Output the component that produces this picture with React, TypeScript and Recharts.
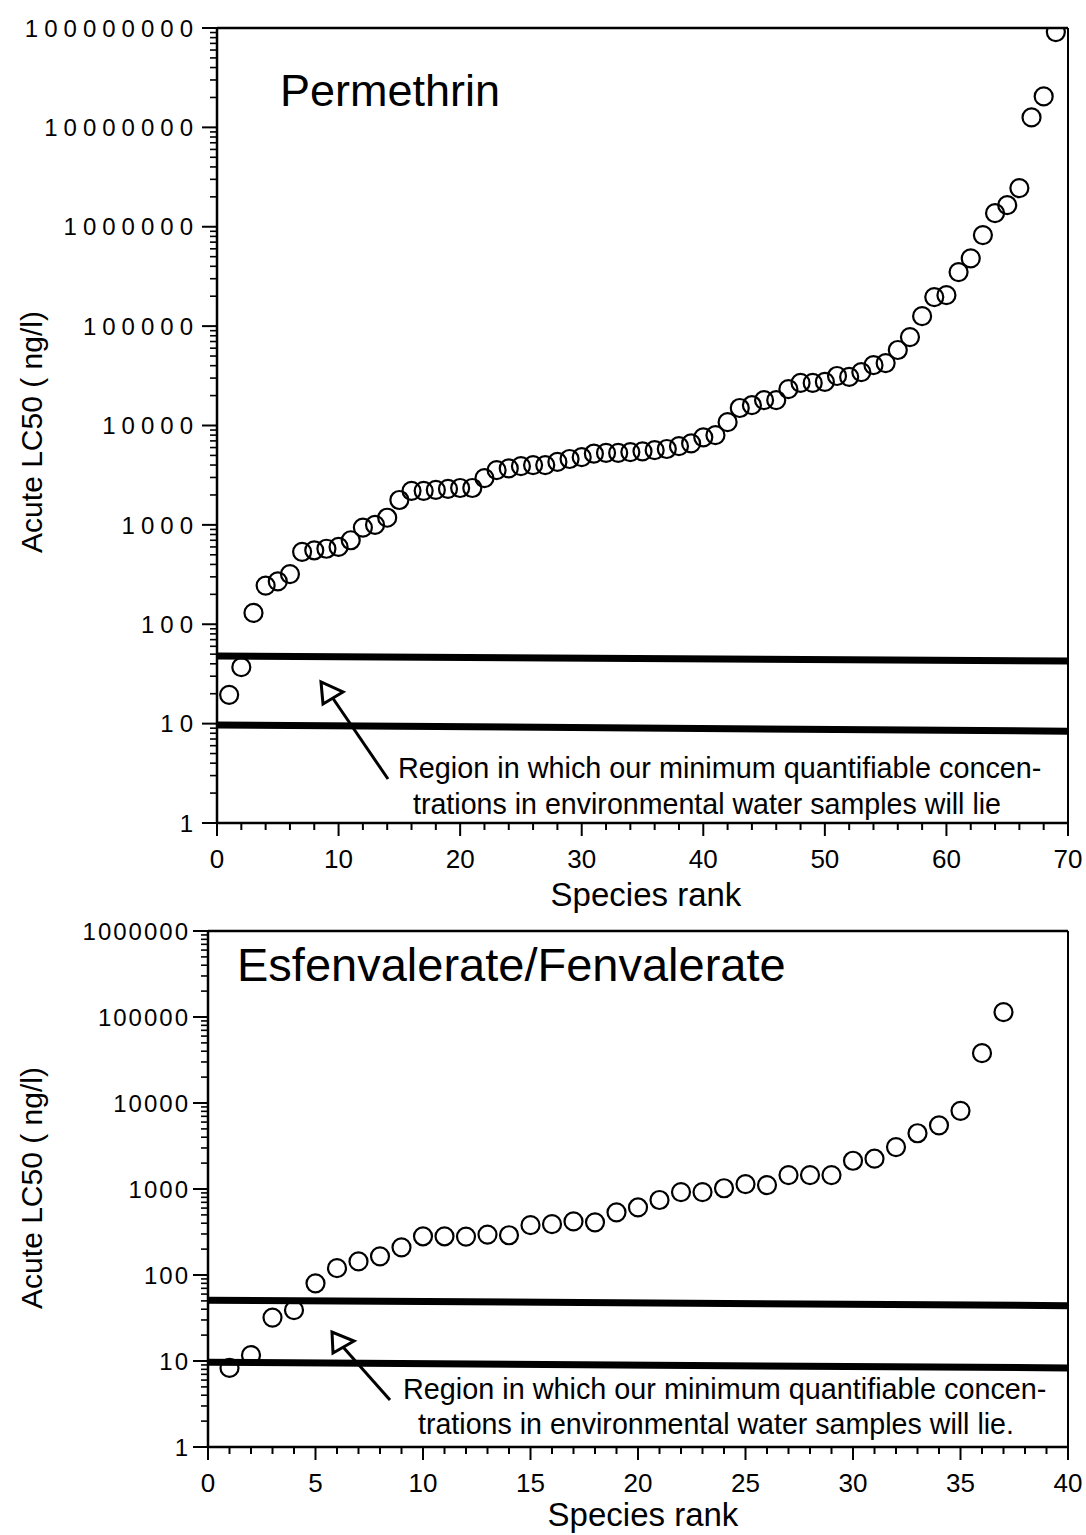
import React from 'react';
import { ScatterChart, Scatter, XAxis, YAxis, ReferenceLine } from 'recharts';

// Acute LC50 (ng/l) by species rank
const permethrinLC50 = [
  19.5, 37, 130, 245, 270, 320, 535, 555, 575, 600,
  700, 940, 1000, 1180, 1780, 2200, 2200, 2250, 2300, 2350,
  2350, 2950, 3550, 3700, 3900, 4000, 4000, 4300, 4600, 4800,
  5200, 5300, 5300, 5400, 5500, 5650, 5800, 6200, 6600, 7600,
  8000, 10800, 15000, 16000, 18000, 18000, 23200, 26800, 26800, 27500,
  31500, 30800, 34500, 40500, 42500, 57500, 77600, 126000, 196000, 205000,
  350000, 480000, 825000, 1370000, 1650000, 2450000, 12600000, 20500000, 91000000,
];

const fenvalerateLC50 = [
  8.3, 11.7, 32, 39, 80, 120, 144, 165, 210, 282,
  282, 280, 295, 290, 380, 390, 420, 410, 535, 610,
  745, 920, 920, 1020, 1140, 1110, 1450, 1450, 1450, 2130,
  2250, 3070, 4450, 5500, 8100, 38000, 114000,
];

const permethrinXTicks = [0, 10, 20, 30, 40, 50, 60, 70];
const fenvalerateXTicks = [0, 5, 10, 15, 20, 25, 30, 35, 40];
const permethrinDecades = [1, 10, 100, 1000, 10000, 100000, 1000000, 10000000, 100000000];
const fenvalerateDecades = [1, 10, 100, 1000, 10000, 100000, 1000000];

// quantification band: [value at rank 0, value at last rank]
const permethrinBandUpper = [48, 42.6];
const permethrinBandLower = [9.7, 8.4];
const fenvalerateBandUpper = [51, 44];
const fenvalerateBandLower = [9.7, 8.3];

const FONT = '"Liberation Sans", Arial, Helvetica, sans-serif';

const toRows = (values: number[]) => values.map((v, i) => ({ rank: i + 1, lc50: v }));

const minorX = (majors: number[], per: number) => {
  const out: number[] = [];
  const step = (majors[1] - majors[0]) / per;
  const last = majors[majors.length - 1];
  for (let v = 0; v <= last + 1e-9; v += step) out.push(Math.round(v * 100) / 100);
  return out;
};

const logTicks = (decades: number[]) => {
  const out: number[] = [];
  decades.forEach((d, i) => {
    out.push(d);
    if (i < decades.length - 1) for (let m = 2; m <= 9; m++) out.push(d * m);
  });
  return out;
};

const isDecade = (v: number) => Math.abs(Math.log10(v) - Math.round(Math.log10(v))) < 1e-6;

const YTick = (props: any) => {
  const { x, y, payload, spacing } = props;
  const v = payload.value;
  const major = isDecade(v);
  return (
    <g>
      <line x1={x - (major ? 15 : 7)} x2={x} y1={y} y2={y} stroke="#000" strokeWidth={major ? 2 : 1.6} />
      {major && (
        <text x={x - 18} y={y} dy="0.36em" textAnchor="end" fontSize={24} letterSpacing={spacing}
          fontFamily={FONT} fill="#000">
          {String(Math.round(v))}
        </text>
      )}
    </g>
  );
};

const XTick = (props: any) => {
  const { x, y, payload, majorStep } = props;
  const v = payload.value;
  const major = Math.abs(v / majorStep - Math.round(v / majorStep)) < 1e-6;
  return (
    <g>
      <line x1={x} x2={x} y1={y} y2={y + (major ? 13 : 7)} stroke="#000" strokeWidth={2} />
      {major && (
        <text x={x} y={y + 45} textAnchor="middle" fontSize={26} fontFamily={FONT} fill="#000">
          {v}
        </text>
      )}
    </g>
  );
};

const Ring = (props: any) => (
  <circle cx={props.cx} cy={props.cy} r={9} fill="none" stroke="#000" strokeWidth={2.2} />
);

type PanelProps = {
  values: number[];
  xTicks: number[];
  minorPer: number;
  decades: number[];
  upper: number[];
  lower: number[];
  height: number;
  margin: { top: number; right: number; left: number; bottom: number };
  spacing: number;
};

const Panel = ({ values, xTicks, minorPer, decades, upper, lower, height, margin, spacing }: PanelProps) => {
  const xMax = xTicks[xTicks.length - 1];
  const yMax = decades[decades.length - 1];
  const majorStep = xTicks[1] - xTicks[0];
  return (
    <ScatterChart width={1086} height={height} margin={margin}>
      <XAxis
        type="number"
        dataKey="rank"
        domain={[0, xMax]}
        ticks={minorX(xTicks, minorPer)}
        interval={0}
        height={80}
        tickSize={0}
        tickMargin={0}
        tickLine={false}
        axisLine={{ stroke: '#000', strokeWidth: 2.5 }}
        tick={(p: any) => <XTick {...p} majorStep={majorStep} />}
        allowDataOverflow
      />
      <YAxis
        type="number"
        dataKey="lc50"
        scale="log"
        domain={[1, yMax]}
        ticks={logTicks(decades)}
        interval={0}
        width={200}
        tickSize={0}
        tickMargin={0}
        tickLine={false}
        axisLine={{ stroke: '#000', strokeWidth: 2.5 }}
        tick={(p: any) => <YTick {...p} spacing={spacing} />}
        allowDataOverflow
      />
      <ReferenceLine y={yMax} stroke="#000" strokeWidth={2.5} />
      <ReferenceLine x={xMax} stroke="#000" strokeWidth={2} />
      <ReferenceLine
        segment={[{ x: 0, y: upper[0] }, { x: xMax, y: upper[1] }]}
        stroke="#000"
        strokeWidth={7}
      />
      <ReferenceLine
        segment={[{ x: 0, y: lower[0] }, { x: xMax, y: lower[1] }]}
        stroke="#000"
        strokeWidth={7}
      />
      <Scatter data={toRows(values)} shape={Ring} isAnimationActive={false} />
    </ScatterChart>
  );
};

export default function App() {
  return (
    <div style={{ position: 'absolute', left: 0, top: 0, width: 1086, height: 1535, background: '#fff' }}>
      <div style={{ position: 'absolute', left: 0, top: 0 }}>
        <Panel
          values={permethrinLC50}
          xTicks={permethrinXTicks}
          minorPer={5}
          decades={permethrinDecades}
          upper={permethrinBandUpper}
          lower={permethrinBandLower}
          height={930}
          margin={{ top: 28, right: 18, left: 17, bottom: 27 }}
          spacing={6}
        />
      </div>
      <div style={{ position: 'absolute', left: 0, top: 900 }}>
        <Panel
          values={fenvalerateLC50}
          xTicks={fenvalerateXTicks}
          minorPer={5}
          decades={fenvalerateDecades}
          upper={fenvalerateBandUpper}
          lower={fenvalerateBandLower}
          height={635}
          margin={{ top: 31, right: 18, left: 8, bottom: 8 }}
          spacing={2}
        />
      </div>
      <svg width={1086} height={1535} style={{ position: 'absolute', left: 0, top: 0, pointerEvents: 'none' }}
        fontFamily={FONT}>
        <text x={280} y={106} fontSize={45}>Permethrin</text>
        <text x={237} y={981} fontSize={47}>Esfenvalerate/Fenvalerate</text>

        <text x={42} y={432} fontSize={30} textAnchor="middle" transform="rotate(-90 42 432)">Acute LC50 ( ng/l)</text>
        <text x={42} y={1188} fontSize={30} textAnchor="middle" transform="rotate(-90 42 1188)">Acute LC50 ( ng/l)</text>

        <text x={646} y={906} fontSize={33} textAnchor="middle">Species rank</text>
        <text x={643} y={1526} fontSize={33} textAnchor="middle">Species rank</text>

        <line x1={388} y1={779} x2={332} y2={697} stroke="#000" strokeWidth={3} />
        <polygon points="321,682 323,704 343,692" fill="#fff" stroke="#000" strokeWidth={3} />
        <text x={398} y={778} fontSize={28.8}>Region in which our minimum quantifiable concen-</text>
        <text x={413} y={814} fontSize={28.6}>trations in environmental water samples will lie</text>

        <line x1={390} y1={1400} x2={343} y2={1347} stroke="#000" strokeWidth={3} />
        <polygon points="332,1332 333,1353 354,1341" fill="#fff" stroke="#000" strokeWidth={3} />
        <text x={403} y={1399} fontSize={28.8}>Region in which our minimum quantifiable concen-</text>
        <text x={418} y={1434} fontSize={28.6}>trations in environmental water samples will lie.</text>
      </svg>
    </div>
  );
}
